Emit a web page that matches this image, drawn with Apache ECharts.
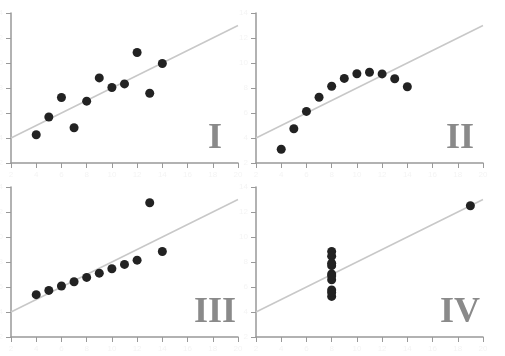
<!DOCTYPE html>
<html><head><meta charset="utf-8">
<script src="https://cdn.jsdelivr.net/npm/echarts@6/dist/echarts.min.js"></script>
<style>html,body{margin:0;padding:0;background:#fff}#c{width:505px;height:356px}</style>
</head><body><div id="c"></div>
<script>
const x123 = [10, 8, 13, 9, 11, 14, 6, 4, 12, 7, 5];
const y1 = [8.04, 6.95, 7.58, 8.81, 8.33, 9.96, 7.24, 4.26, 10.84, 4.82, 5.68];
const y2 = [9.14, 8.14, 8.74, 8.77, 9.26, 8.10, 6.13, 3.10, 9.13, 7.26, 4.74];
const y3 = [7.46, 6.77, 12.74, 7.11, 7.81, 8.84, 6.08, 5.39, 8.15, 6.42, 5.73];
const x4 = [8, 8, 8, 8, 8, 8, 8, 19, 8, 8, 8];
const y4 = [6.58, 5.76, 7.71, 8.84, 8.47, 7.04, 5.25, 12.50, 5.56, 7.91, 6.89];
const fitX = [2, 20];
const fitY = [4, 13];
const panelNames = ['I', 'II', 'III', 'IV'];
const xTicks = [2, 20, 2];   // min, max, interval
const yTicks = [2, 14, 2];

const panels = [[x123, y1], [x123, y2], [x123, y3], [x4, y4]];
const grids = [
  {left: 11, top: 13, width: 227, height: 150, outerBoundsMode: 'none', containLabel: false},
  {left: 256, top: 13, width: 227, height: 150, outerBoundsMode: 'none', containLabel: false},
  {left: 11, top: 187, width: 227, height: 150, outerBoundsMode: 'none', containLabel: false},
  {left: 256, top: 187, width: 227, height: 150, outerBoundsMode: 'none', containLabel: false}
];
const axisCommon = {
  axisLine: {show: true, lineStyle: {color: '#999', width: 1.5}},
  axisTick: {show: true, length: 5, lineStyle: {color: '#999', width: 1}},
  splitLine: {show: false},
  axisLabel: {color: '#f4f4f4', fontSize: 8, margin: 8}
};
const xAxis = grids.map((g, i) => Object.assign({gridIndex: i, type: 'value', min: xTicks[0], max: xTicks[1], interval: xTicks[2]}, axisCommon));
const yAxis = grids.map((g, i) => Object.assign({gridIndex: i, type: 'value', min: yTicks[0], max: yTicks[1], interval: yTicks[2]}, axisCommon));
const series = [];
panels.forEach((p, i) => {
  series.push({
    type: 'line', xAxisIndex: i, yAxisIndex: i, symbol: 'none', silent: true,
    lineStyle: {color: '#c8c8c8', width: 1.5},
    data: fitX.map((x, k) => [x, fitY[k]]), z: 1
  });
  series.push({
    type: 'scatter', xAxisIndex: i, yAxisIndex: i, symbolSize: 9,
    itemStyle: {color: '#222', opacity: 1},
    data: p[0].map((x, k) => [x, p[1][k]]), z: 2
  });
});
const title = panelNames.map((n, i) => ({
  text: n,
  left: grids[i].left + 199,
  top: grids[i].top + 103,
  textAlign: 'center',
  textStyle: {fontFamily: 'Liberation Serif', fontWeight: 'bold', fontSize: 36, color: '#8a8a8a'}
}));
const chart = echarts.init(document.getElementById('c'), null, {renderer: 'canvas'});
chart.setOption({animation: false, title, grid: grids, xAxis, yAxis, series});
</script></body></html>
